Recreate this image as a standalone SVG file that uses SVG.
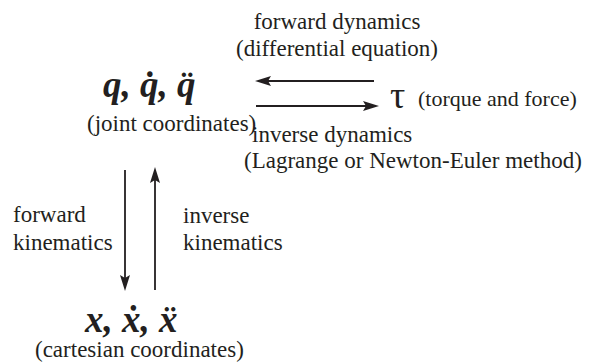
<svg xmlns="http://www.w3.org/2000/svg" width="611" height="362" viewBox="0 0 611 362">
<rect width="611" height="362" fill="#fff"/>
<g id="joint">
<text x="103" y="97" font-family="Liberation Serif, serif" fill="#231f20" font-size="37" font-weight="bold" font-style="italic">q, q̇, q̈</text>
<text x="87" y="131" font-family="Liberation Serif, serif" fill="#231f20" font-size="23">(joint coordinates)</text>
</g>
<g id="torque">
<text x="390" y="108" font-family="Liberation Serif, serif" fill="#231f20" font-size="38">τ</text>
<text x="418" y="106" font-family="Liberation Serif, serif" fill="#231f20" font-size="22">(torque and force)</text>
</g>
<g id="cartesian">
<text x="85" y="332" font-family="Liberation Serif, serif" fill="#231f20" font-size="37" font-weight="bold" font-style="italic">x, ẋ, ẍ</text>
<text x="35" y="357" font-family="Liberation Serif, serif" fill="#231f20" font-size="23">(cartesian coordinates)</text>
</g>
<g id="connectors" fill="#231f20">
<g stroke="#231f20" stroke-width="1.8">
<line x1="374" y1="81" x2="268" y2="81"/>
<line x1="256" y1="106" x2="366" y2="106"/>
<line x1="125" y1="170" x2="125" y2="278"/>
<line x1="155" y1="290" x2="155" y2="180"/>
</g>
<polygon points="255,81 271,76 268,81 271,86"/>
<polygon points="379,106 363,101 366,106 363,111"/>
<polygon points="125,291 120,275 125,278 130,275"/>
<polygon points="155,167 150,183 155,180 160,183"/>
</g>
<g id="labels">
<text x="337" y="29" text-anchor="middle" font-family="Liberation Serif, serif" fill="#231f20" font-size="23">forward dynamics</text>
<text x="337" y="56" text-anchor="middle" font-family="Liberation Serif, serif" fill="#231f20" font-size="23">(differential equation)</text>
<text x="252" y="142" font-family="Liberation Serif, serif" fill="#231f20" font-size="23">inverse dynamics</text>
<text x="244" y="168" font-family="Liberation Serif, serif" fill="#231f20" font-size="23">(Lagrange or Newton-Euler method)</text>
<text x="13" y="222" font-family="Liberation Serif, serif" fill="#231f20" font-size="23">forward</text>
<text x="13" y="250" font-family="Liberation Serif, serif" fill="#231f20" font-size="23">kinematics</text>
<text x="183" y="223" font-family="Liberation Serif, serif" fill="#231f20" font-size="23">inverse</text>
<text x="183" y="250" font-family="Liberation Serif, serif" fill="#231f20" font-size="23">kinematics</text>
</g>
</svg>
